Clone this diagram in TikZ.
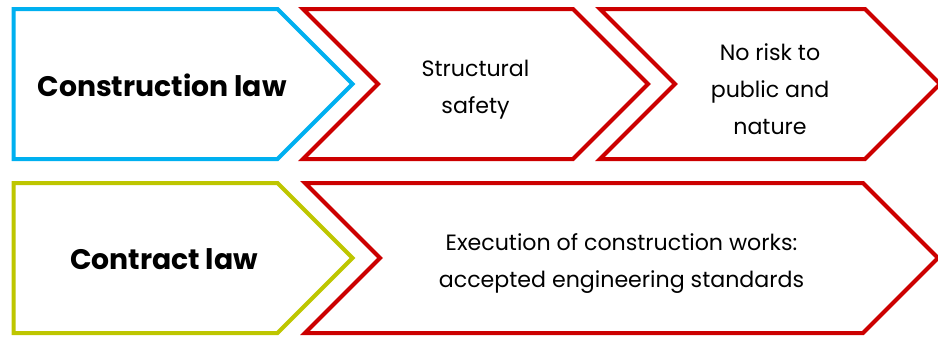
\documentclass[tikz,border=0pt]{standalone}
\usepackage{fontspec}
\setmainfont{Poppins}
\usetikzlibrary{shapes.symbols}

\definecolor{lawblue}{RGB}{0,176,240}
\definecolor{lawgreen}{RGB}{190,198,0}
\definecolor{stepred}{RGB}{204,0,0}

\begin{document}
\begin{tikzpicture}[
        x=0.75pt, y=-0.75pt,
        chevron/.style={signal, signal to=east, signal pointer angle=90, line width=3pt,
            minimum height=112.5pt, inner sep=0pt, fill=white},
        first/.style={chevron, signal from=nowhere},
        later/.style={chevron, draw=stepred, signal from=west},
        steptext/.style={align=center, yshift=-4pt, font=\fontsize{16.6}{27.5}\selectfont},
        lawtext/.style={font=\fontsize{21.2}{25}\selectfont\bfseries}
    ]
        \useasboundingbox (0,0) rectangle (938,336);

        % --- TOP ROW: construction law ---
        \node[first, draw=lawblue, minimum width=254.25pt] (construction) at (145.5,84) {};
        \node[later, minimum width=258.75pt] (safety) at (475.5,84) {};
        \node[later, minimum width=255pt] (risk) at (770,84) {};

        \node[lawtext] (construction_txt) at (162,85) {Construction law};
        \node[steptext] (safety_txt) at (safety.center) {Structural\\safety};
        \node[steptext] (risk_txt) at (risk.center) {No risk to\\public and\\nature};

        % --- BOTTOM ROW: contract law ---
        \node[first, draw=lawgreen, minimum width=254.25pt] (contract) at (145.5,258) {};
        \node[later, minimum width=474.75pt] (standards) at (621.5,258) {};

        \node[lawtext] (contract_txt) at (164,259) {Contract law};
        \node[steptext] (standards_txt) at (standards.center)
            {Execution of construction works:\\accepted engineering standards};

    \end{tikzpicture}
\end{document}
